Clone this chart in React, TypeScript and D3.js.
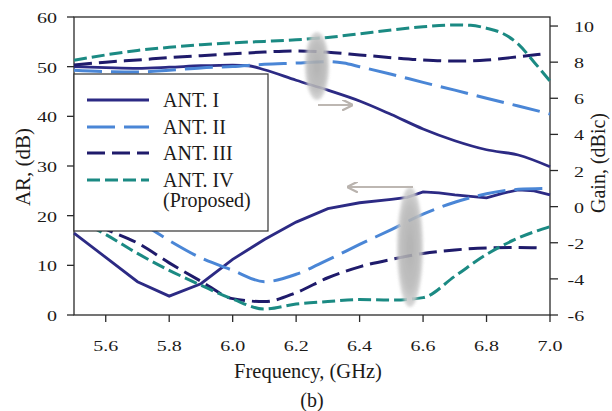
import React from "react";
import * as d3 from "d3";

// ---------- data ----------
const freqTicks = [5.6, 5.8, 6.0, 6.2, 6.4, 6.6, 6.8, 7.0];
const arTicks = [0, 10, 20, 30, 40, 50, 60];
const gainTicks = [-6, -4, -2, 0, 2, 4, 6, 8, 10];

const seriesNames = ["ANT. I", "ANT. II", "ANT. III", "ANT. IV"];

// Gain (dBic), right axis
const gain1F = [5.5, 5.6, 5.7, 5.8, 5.9, 6.0, 6.05, 6.1, 6.2, 6.3, 6.4, 6.5, 6.6, 6.7, 6.8, 6.9, 7.0];
const gain1V = [7.75, 7.7, 7.66, 7.72, 7.8, 7.84, 7.8, 7.58, 7.0, 6.45, 5.85, 5.1, 4.3, 3.65, 3.15, 2.86, 2.21];

const gain2F = [5.5, 5.6, 5.7, 5.8, 5.9, 6.0, 6.1, 6.2, 6.3, 6.35, 6.4, 6.5, 6.6, 6.7, 6.8, 6.9, 7.0];
const gain2V = [7.55, 7.48, 7.46, 7.55, 7.68, 7.76, 7.88, 7.95, 8.03, 7.95, 7.75, 7.33, 6.88, 6.45, 6.0, 5.57, 5.13];

const gain3F = [5.5, 5.6, 5.7, 5.8, 5.9, 6.0, 6.1, 6.2, 6.3, 6.4, 6.5, 6.6, 6.7, 6.8, 6.9, 6.97];
const gain3V = [7.84, 8.0, 8.12, 8.25, 8.36, 8.46, 8.56, 8.62, 8.55, 8.4, 8.25, 8.12, 8.06, 8.12, 8.3, 8.44];

const gain4F = [5.5, 5.6, 5.7, 5.8, 5.9, 6.0, 6.1, 6.2, 6.3, 6.4, 6.5, 6.6, 6.7, 6.75, 6.8, 6.85, 6.9, 6.95, 7.0];
const gain4V = [8.1, 8.4, 8.65, 8.82, 8.97, 9.07, 9.15, 9.24, 9.37, 9.57, 9.78, 9.96, 10.06, 10.04, 9.88, 9.6, 9.0, 8.0, 6.95];

// AR (dB), left axis
const ar1F = [5.5, 5.6, 5.7, 5.8, 5.9, 6.0, 6.1, 6.2, 6.3, 6.4, 6.5, 6.55, 6.6, 6.65, 6.7, 6.75, 6.8, 6.85, 6.9, 6.95, 7.0];
const ar1V = [16.5, 11.6, 6.7, 3.8, 6.3, 11.2, 15.2, 18.7, 21.4, 22.6, 23.3, 23.7, 24.8, 24.6, 24.2, 23.9, 23.6, 24.5, 25.2, 25.0, 24.2];

const ar2F = [5.5, 5.6, 5.7, 5.8, 5.9, 6.0, 6.1, 6.2, 6.3, 6.4, 6.5, 6.6, 6.7, 6.8, 6.9, 7.0];
const ar2V = [25.5, 22.5, 19.0, 15.0, 11.5, 9.0, 6.7, 8.2, 11.1, 14.2, 17.2, 20.3, 22.7, 24.4, 25.3, 25.5];

const ar3F = [5.5, 5.6, 5.7, 5.8, 5.9, 6.0, 6.1, 6.2, 6.3, 6.4, 6.5, 6.6, 6.7, 6.8, 6.9, 6.97];
const ar3V = [20.5, 17.3, 14.5, 10.5, 6.8, 3.3, 2.7, 4.5, 7.5, 9.7, 11.2, 12.4, 13.1, 13.5, 13.6, 13.5];

const ar4F = [5.5, 5.6, 5.7, 5.8, 5.9, 6.0, 6.1, 6.2, 6.3, 6.4, 6.5, 6.6, 6.7, 6.8, 6.9, 7.0];
const ar4V = [19.5, 16.2, 12.4, 9.0, 6.0, 3.2, 1.2, 2.2, 2.7, 3.1, 3.0, 3.5, 7.8, 12.2, 15.5, 17.8];

// ---------- styles ----------
const colors = ["#2c2a84", "#4a86d6", "#1f1b6b", "#1b8a83"];
const dashes = ["", "28,9", "18,7", "13,5"];
const widths = [2.8, 3, 3, 3];

const W = 612;
const H = 411;
const FONT = "'Liberation Serif', 'Times New Roman', serif";
const TEXT = "#1c1a18";

export default function App() {
  const x = d3.scaleLinear().domain([5.5, 7.0]).range([74, 550]);
  const yL = d3.scaleLinear().domain([0, 60]).range([315, 17]);
  const yR = d3.scaleLinear().domain([-6, 10.5]).range([315, 17]);

  const mk = (fs: number[], vs: number[], y: d3.ScaleLinear<number, number>) =>
    d3
      .line<number>()
      .x((_, i) => x(fs[i]))
      .y((v) => y(v))
      .curve(d3.curveMonotoneX)(vs) as string;

  const mkLin = (fs: number[], vs: number[], y: d3.ScaleLinear<number, number>) =>
    d3
      .line<number>()
      .x((_, i) => x(fs[i]))
      .y((v) => y(v))(vs) as string;

  const gainPaths = [
    mk(gain1F, gain1V, yR),
    mk(gain2F, gain2V, yR),
    mk(gain3F, gain3V, yR),
    mk(gain4F, gain4V, yR),
  ];
  const arPaths = [
    mkLin(ar1F, ar1V, yL),
    mk(ar2F, ar2V, yL),
    mk(ar3F, ar3V, yL),
    mk(ar4F, ar4V, yL),
  ];

  const x0 = x(5.5);
  const x1 = x(7.0);
  const yTop = yL(60);
  const yBot = yL(0);
  const axisCol = "#2a2a2a";
  const tickSX = 1.29;
  const tickFS = 15.5;

  const legendY = [100, 127, 153, 180];

  return (
    <svg
      width={W}
      height={H}
      style={{ position: "absolute", left: 0, top: 0, background: "#fff" }}
      fontFamily={FONT}
    >
      <defs>
        <radialGradient id="ell" cx="50%" cy="50%" r="50%">
          <stop offset="0%" stopColor="#a9a9a9" />
          <stop offset="70%" stopColor="#b8b8b8" />
          <stop offset="100%" stopColor="#d2d2d2" />
        </radialGradient>
        <filter id="blur" x="-50%" y="-20%" width="200%" height="140%">
          <feGaussianBlur stdDeviation="1.6" />
        </filter>
        <marker id="arrR" viewBox="0 0 10 10" refX="9" refY="5" markerWidth="5" markerHeight="5" orient="auto">
          <path d="M0,0 L10,5 L0,10" fill="none" stroke="#b9b3ae" strokeWidth="2" />
        </marker>
      </defs>
      <rect x={0} y={0} width={W} height={H} fill="#fff" />

      {/* plot frame */}
      <rect x={x0} y={yTop} width={x1 - x0} height={yBot - yTop} fill="none" stroke={axisCol} strokeWidth={1.3} />

      {/* left ticks */}
      {arTicks.map((t) => (
        <g key={"l" + t}>
          <line x1={x0 - 7} x2={x0} y1={yL(t)} y2={yL(t)} stroke={axisCol} strokeWidth={1.3} />
          <text
            transform={`translate(${x0 - 17},${yL(t) + 6}) scale(${tickSX},1)`}
            textAnchor="end"
            fontSize={tickFS}
            fill={TEXT}
          >
            {t}
          </text>
        </g>
      ))}

      {/* right ticks */}
      {gainTicks.map((t) => (
        <g key={"r" + t}>
          <line x1={x1} x2={x1 + 8} y1={yR(t)} y2={yR(t)} stroke={axisCol} strokeWidth={1.3} />
          <text
            transform={`translate(${t < 0 ? 567.5 : 574},${yR(t) + 6}) scale(${tickSX},1)`}
            textAnchor="start"
            fontSize={tickFS}
            fill={TEXT}
          >
            {t < 0 ? "-" + Math.abs(t) : t}
          </text>
        </g>
      ))}

      {/* bottom ticks */}
      {freqTicks.map((t) => (
        <g key={"b" + t}>
          <line x1={x(t)} x2={x(t)} y1={yBot} y2={yBot + 7} stroke={axisCol} strokeWidth={1.3} />
          <text
            transform={`translate(${x(t)},351) scale(${tickSX},1)`}
            textAnchor="middle"
            fontSize={tickFS}
            fill={TEXT}
          >
            {t.toFixed(1)}
          </text>
        </g>
      ))}

      {/* data lines */}
      {arPaths.map((p, i) => (
        <path key={"ar" + i} d={p} fill="none" stroke={colors[i]} strokeWidth={widths[i]} strokeDasharray={dashes[i]} />
      ))}
      {gainPaths.map((p, i) => (
        <path key={"g" + i} d={p} fill="none" stroke={colors[i]} strokeWidth={widths[i]} strokeDasharray={dashes[i]} />
      ))}

      {/* annotations */}
      <ellipse cx={317} cy={66} rx={12} ry={34} fill="url(#ell)" opacity={0.88} filter="url(#blur)" />
      <line x1={318} y1={105} x2={352} y2={105} stroke="#bdb7b2" strokeWidth={2.2} markerEnd="url(#arrR)" />
      <ellipse cx={410} cy={247} rx={13} ry={60} fill="url(#ell)" opacity={0.88} filter="url(#blur)" />
      <line x1={413} y1={187} x2={348} y2={187} stroke="#bdb7b2" strokeWidth={2.2} markerEnd="url(#arrR)" />

      {/* legend */}
      <rect x={x0} y={74} width={194} height={157} fill="#fff" stroke="#333" strokeWidth={1.2} />
      {seriesNames.map((n, i) => (
        <g key={"lg" + i}>
          <line
            x1={87}
            x2={149}
            y1={legendY[i]}
            y2={legendY[i]}
            stroke={colors[i]}
            strokeWidth={3.2}
            strokeDasharray={dashes[i]}
          />
          <text x={163} y={legendY[i] + 7} fontSize={20} fill={TEXT}>
            {n}
          </text>
        </g>
      ))}
      <text x={163} y={207} fontSize={20} fill={TEXT}>
        (Proposed)
      </text>

      {/* axis titles */}
      <text transform="translate(30,167) rotate(-90)" textAnchor="middle" fontSize={21} fill={TEXT}>
        AR, (dB)
      </text>
      <text transform="translate(605,163) rotate(-90)" textAnchor="middle" fontSize={20} fill={TEXT}>
        Gain, (dBic)
      </text>
      <text x={308} y={378} textAnchor="middle" fontSize={20.5} fill={TEXT}>
        Frequency, (GHz)
      </text>
      <text x={312} y={407} textAnchor="middle" fontSize={20} fill={TEXT}>
        (b)
      </text>
    </svg>
  );
}
